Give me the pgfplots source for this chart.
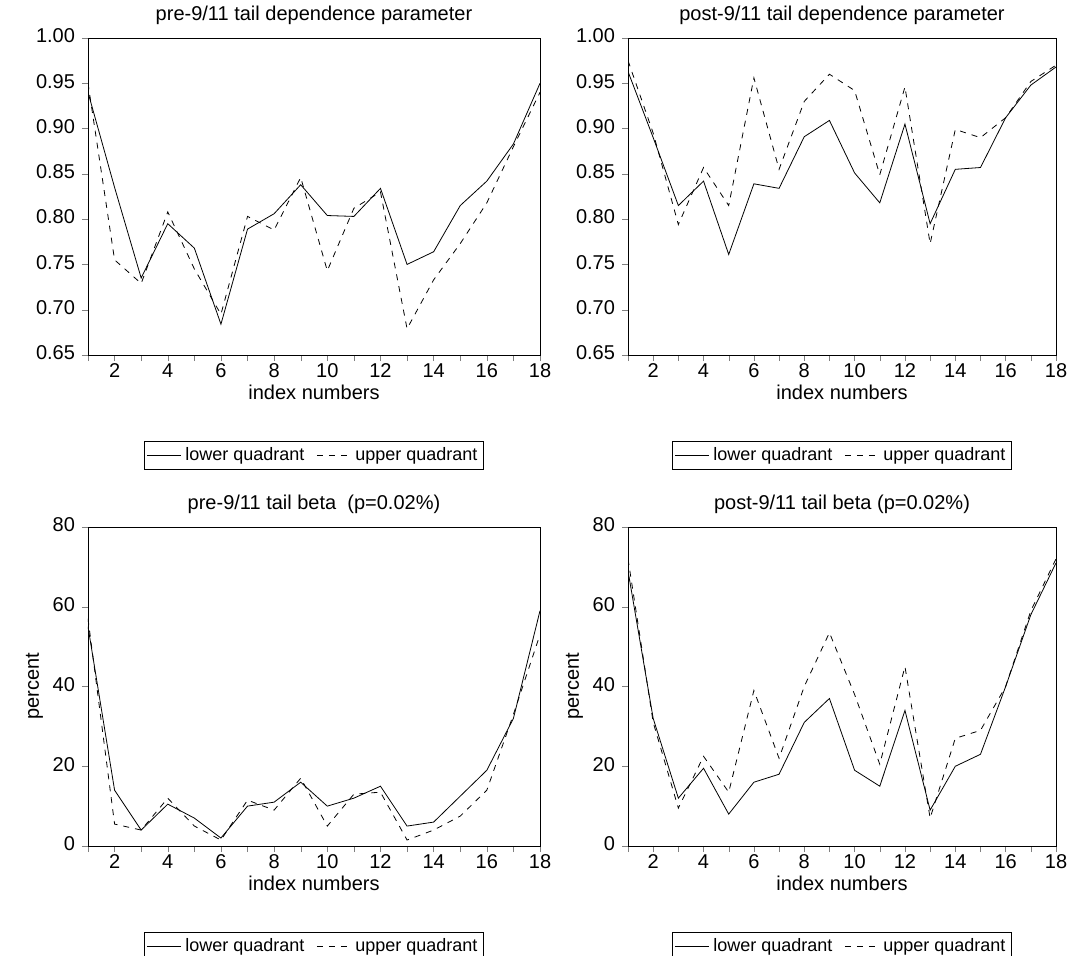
\documentclass[border=0pt]{standalone}
\usepackage{pgfplots}
\pgfplotsset{compat=1.18}
\usepackage{fontspec}
\setmainfont{Liberation Sans}
\begin{document}
\begin{tikzpicture}
\pgfplotsset{every axis/.style={scale only axis, xmin=1, xmax=18, xtick={1,...,18},
 xticklabels={,2,,4,,6,,8,,10,,12,,14,,16,,18}, tick align=outside, tick pos=left,
 typeset ticklabels with strut,
 /pgf/number format/assume math mode=true, font=\fontsize{10}{12}\selectfont,
 xticklabel style={yshift=3.5pt},
 xlabel={index numbers}, xlabel style={yshift=7pt},
 legend columns=2, legend style={at={(0.5,-0.27)}, anchor=north, draw=black, inner sep=1pt,
   /tikz/every even column/.append style={column sep=4pt}, font=\fontsize{9}{11}\selectfont},
 major tick length=3pt,
 title style={yshift=-3pt}, anchor=south west},
 low/.style={black, thin, mark=none},
 up/.style={black, thin, dashed, mark=none}}
\path[use as bounding box] (0,0) rectangle (537.5pt,477.5pt);
% panel 1
\begin{axis}[at={(44pt,300pt)}, width=226pt, height=158.5pt, ymin=0.65, ymax=1.0,
 ytick={0.65,0.70,...,1.001}, yticklabel style={/pgf/number format/.cd,fixed,precision=2,zerofill},
 title={pre-9/11 tail dependence parameter}]
\addplot[low] coordinates {(1,0.940)(2,0.835)(3,0.735)(4,0.795)(5,0.768)(6,0.684)(7,0.789)(8,0.806)(9,0.838)(10,0.804)(11,0.803)(12,0.834)(13,0.750)(14,0.764)(15,0.815)(16,0.842)(17,0.883)(18,0.950)};
\addplot[up] coordinates {(1,0.950)(2,0.755)(3,0.729)(4,0.808)(5,0.745)(6,0.695)(7,0.803)(8,0.788)(9,0.846)(10,0.743)(11,0.812)(12,0.830)(13,0.679)(14,0.733)(15,0.773)(16,0.818)(17,0.880)(18,0.940)};
\legend{lower quadrant,upper quadrant}
\end{axis}
% panel 2
\begin{axis}[at={(314pt,300pt)}, width=214pt, height=158.5pt, ymin=0.65, ymax=1.0,
 ytick={0.65,0.70,...,1.001}, yticklabel style={/pgf/number format/.cd,fixed,precision=2,zerofill},
 title={post-9/11 tail dependence parameter}]
\addplot[low] coordinates {(1,0.963)(2,0.890)(3,0.815)(4,0.842)(5,0.761)(6,0.839)(7,0.834)(8,0.891)(9,0.909)(10,0.851)(11,0.818)(12,0.905)(13,0.795)(14,0.855)(15,0.857)(16,0.912)(17,0.948)(18,0.968)};
\addplot[up] coordinates {(1,0.975)(2,0.895)(3,0.794)(4,0.857)(5,0.815)(6,0.956)(7,0.855)(8,0.930)(9,0.960)(10,0.942)(11,0.849)(12,0.946)(13,0.773)(14,0.899)(15,0.890)(16,0.912)(17,0.952)(18,0.970)};
\legend{lower quadrant,upper quadrant}
\end{axis}
% panel 3
\begin{axis}[at={(44pt,54.5pt)}, width=226pt, height=159.5pt, ymin=0, ymax=80,
 ytick={0,20,40,60,80}, ylabel={percent}, ylabel style={yshift=-2pt},
 title={pre-9/11 tail beta\ \ (p=0.02\%)}]
\addplot[low] coordinates {(1,55)(2,14)(3,4)(4,10.5)(5,7)(6,2)(7,10)(8,11)(9,16)(10,10)(11,12)(12,15)(13,5)(14,6)(15,12.5)(16,19)(17,32)(18,59)};
\addplot[up] coordinates {(1,57)(2,5.5)(3,4)(4,12)(5,5)(6,1.5)(7,11.5)(8,9)(9,17)(10,5)(11,13)(12,13.5)(13,1.5)(14,4)(15,7.5)(16,14)(17,33)(18,53)};
\legend{lower quadrant,upper quadrant}
\end{axis}
% panel 4
\begin{axis}[at={(314pt,54.5pt)}, width=214pt, height=159.5pt, ymin=0, ymax=80,
 ytick={0,20,40,60,80}, ylabel={percent}, ylabel style={yshift=-2pt},
 title={post-9/11 tail beta (p=0.02\%)}]
\addplot[low] coordinates {(1,69)(2,32)(3,12)(4,19.5)(5,8)(6,16)(7,18)(8,31)(9,37)(10,19)(11,15)(12,34)(13,9)(14,20)(15,23)(16,40)(17,58)(18,71)};
\addplot[up] coordinates {(1,72)(2,31)(3,9.5)(4,22.5)(5,13.5)(6,39)(7,22)(8,40)(9,53.5)(10,38)(11,20.5)(12,45)(13,7)(14,27)(15,29)(16,40)(17,59)(18,72)};
\legend{lower quadrant,upper quadrant}
\end{axis}
\end{tikzpicture}
\end{document}
